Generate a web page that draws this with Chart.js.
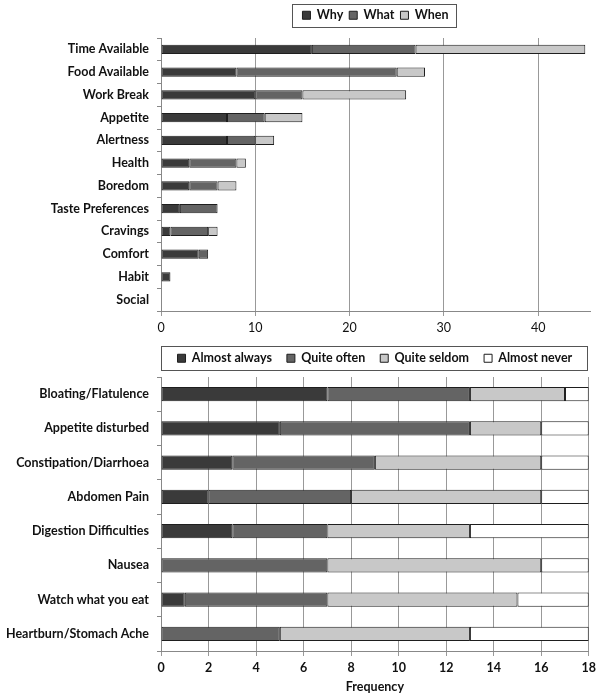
<!DOCTYPE html>
<html>
<head>
<meta charset="utf-8">
<script src="https://cdn.jsdelivr.net/npm/chart.js@4.4.1/dist/chart.umd.min.js"></script>
<style>
  html, body { margin: 0; padding: 0; background: #fff; }
  body { width: 600px; height: 698px; position: relative; overflow: hidden; }
  canvas { position: absolute; left: 0; }
  #reasons-chart { top: 0; }
  #symptoms-chart { top: 337px; }
</style>
</head>
<body>
<canvas id="reasons-chart" width="600" height="340"></canvas>
<canvas id="symptoms-chart" width="600" height="361"></canvas>
<script>
// Datos: motivos (gráfico superior)
const reasons = ['Time Available', 'Food Available', 'Work Break', 'Appetite', 'Alertness', 'Health',
                 'Boredom', 'Taste Preferences', 'Cravings', 'Comfort', 'Habit', 'Social'];
const why  = [16, 8, 10, 7, 7, 3, 3, 2, 1, 4, 1, 0];
const what = [11, 17, 5, 4, 3, 5, 3, 4, 4, 1, 0, 0];
const when = [18, 3, 11, 4, 2, 1, 2, 0, 1, 0, 0, 0];
const reasonTicks = [0, 10, 20, 30, 40];

// Datos: síntomas (gráfico inferior)
const symptoms = ['Bloating/Flatulence', 'Appetite disturbed', 'Constipation/Diarrhoea', 'Abdomen Pain',
                  'Digestion Difficulties', 'Nausea', 'Watch what you eat', 'Heartburn/Stomach Ache'];
const almostAlways = [7, 5, 3, 2, 3, 0, 1, 0];
const quiteOften   = [6, 8, 6, 6, 4, 7, 6, 5];
const quiteSeldom  = [4, 3, 7, 8, 6, 9, 8, 8];
const almostNever  = [1, 2, 2, 2, 5, 2, 3, 5];

Chart.defaults.font.family = 'Lato, "Open Sans", sans-serif';
Chart.defaults.font.size = 12;
Chart.defaults.color = '#111';

const DARK = '#3a3a3a', MID = '#646464', LIGHT = '#c8c8c8', WHITE = '#ffffff', EDGE = '#1e1e1e';

// Leyenda centrada sobre el área del gráfico, con marco
const legendFrame = {
    id: 'legendFrame',
    beforeInit(chart) {
        const legend = chart.legend;
        const fit = legend.fit;
        legend.fit = function () {
            fit.call(this);
            this.height = chart.options.plugins.legendFrame.legendHeight;
        };
    },
    afterUpdate(chart) {
        const legend = chart.legend;
        const area = chart.chartArea;
        const shift = (area.left + area.right) / 2 - (legend.left + legend.right) / 2;
        legend.left += shift;
        legend.right += shift;
        legend.legendHitBoxes.forEach(b => { b.left += shift; });
    },
    afterDraw(chart, args, opts) {
        const boxes = chart.legend.legendHitBoxes;
        if (!boxes || !boxes.length) return;
        const x1 = Math.min(...boxes.map(b => b.left)) - opts.padLeft;
        const x2 = Math.max(...boxes.map(b => b.left + b.width)) + opts.padRight;
        const ctx = chart.ctx;
        ctx.save();
        ctx.strokeStyle = '#555';
        ctx.lineWidth = 1;
        ctx.strokeRect(Math.round(x1) + 0.5, opts.frameTop + 0.5, Math.round(x2 - x1), opts.frameHeight);
        ctx.restore();
    }
};

function dataset(label, data, color, barPct) {
    return {
        label: label,
        data: data,
        backgroundColor: color,
        borderColor: EDGE,
        borderWidth: 1,
        borderSkipped: false,
        barPercentage: barPct,
        categoryPercentage: 1
    };
}

function legendOptions(padding) {
    return {
        position: 'top',
        labels: {
            boxWidth: 8,
            boxHeight: 8,
            padding: padding,
            font: { weight: 'bold', size: 12.5 },
            color: '#111'
        }
    };
}

// 1. Gráfico superior
new Chart(document.getElementById('reasons-chart'), {
    type: 'bar',
    data: {
        labels: reasons,
        datasets: [
            dataset('Why', why, DARK, 0.4),
            dataset('What', what, MID, 0.4),
            dataset('When', when, LIGHT, 0.4)
        ]
    },
    options: {
        indexAxis: 'y',
        responsive: false,
        animation: false,
        events: [],
        layout: { padding: { left: 0, right: 10, top: 3, bottom: 0 } },
        plugins: {
            legend: legendOptions(6),
            legendFrame: { legendHeight: 35, padLeft: 10, padRight: 8, frameTop: 4, frameHeight: 23 },
            tooltip: { enabled: false }
        },
        scales: {
            x: {
                stacked: true,
                min: 0,
                max: 45.5,
                afterBuildTicks: (scale) => { scale.ticks = reasonTicks.map(v => ({ value: v })); },
                ticks: { color: '#111', padding: 4, font: { size: 12.5 } },
                grid: { color: '#999', tickLength: 5 },
                border: { color: '#888' },
                afterFit: (scale) => { scale.height = 29; }
            },
            y: {
                stacked: true,
                ticks: { color: '#111', padding: 8, font: { weight: 'bold', size: 12.5 } },
                grid: { drawOnChartArea: false, color: '#888', tickLength: 4 },
                border: { color: '#888' },
                afterFit: (scale) => { scale.width = 161; }
            }
        }
    },
    plugins: [legendFrame]
});

// 2. Gráfico inferior
new Chart(document.getElementById('symptoms-chart'), {
    type: 'bar',
    data: {
        labels: symptoms,
        datasets: [
            dataset('Almost always', almostAlways, DARK, 0.42),
            dataset('Quite often', quiteOften, MID, 0.42),
            dataset('Quite seldom', quiteSeldom, LIGHT, 0.42),
            dataset('Almost never', almostNever, WHITE, 0.42)
        ]
    },
    options: {
        indexAxis: 'y',
        responsive: false,
        animation: false,
        events: [],
        layout: { padding: { left: 0, right: 10, top: 0, bottom: 0 } },
        plugins: {
            legend: legendOptions(15),
            legendFrame: { legendHeight: 40, padLeft: 17, padRight: 14, frameTop: 9, frameHeight: 24 },
            tooltip: { enabled: false }
        },
        scales: {
            x: {
                stacked: true,
                min: 0,
                max: 18,
                ticks: { stepSize: 2, color: '#111', padding: 4, font: { weight: 'bold', size: 12.5 } },
                grid: { color: '#999', tickLength: 5 },
                border: { color: '#888' },
                title: {
                    display: true,
                    text: 'Frequency',
                    color: '#111',
                    font: { weight: 'bold', size: 12.5 },
                    padding: { top: 0, bottom: 4 }
                },
                afterFit: (scale) => { scale.height = 47; }
            },
            y: {
                stacked: true,
                ticks: { color: '#111', padding: 8, font: { weight: 'bold', size: 12.5 } },
                grid: { drawOnChartArea: false, color: '#888', tickLength: 4 },
                border: { color: '#888' },
                afterFit: (scale) => { scale.width = 161; }
            }
        }
    },
    plugins: [legendFrame]
});
</script>
</body>
</html>
